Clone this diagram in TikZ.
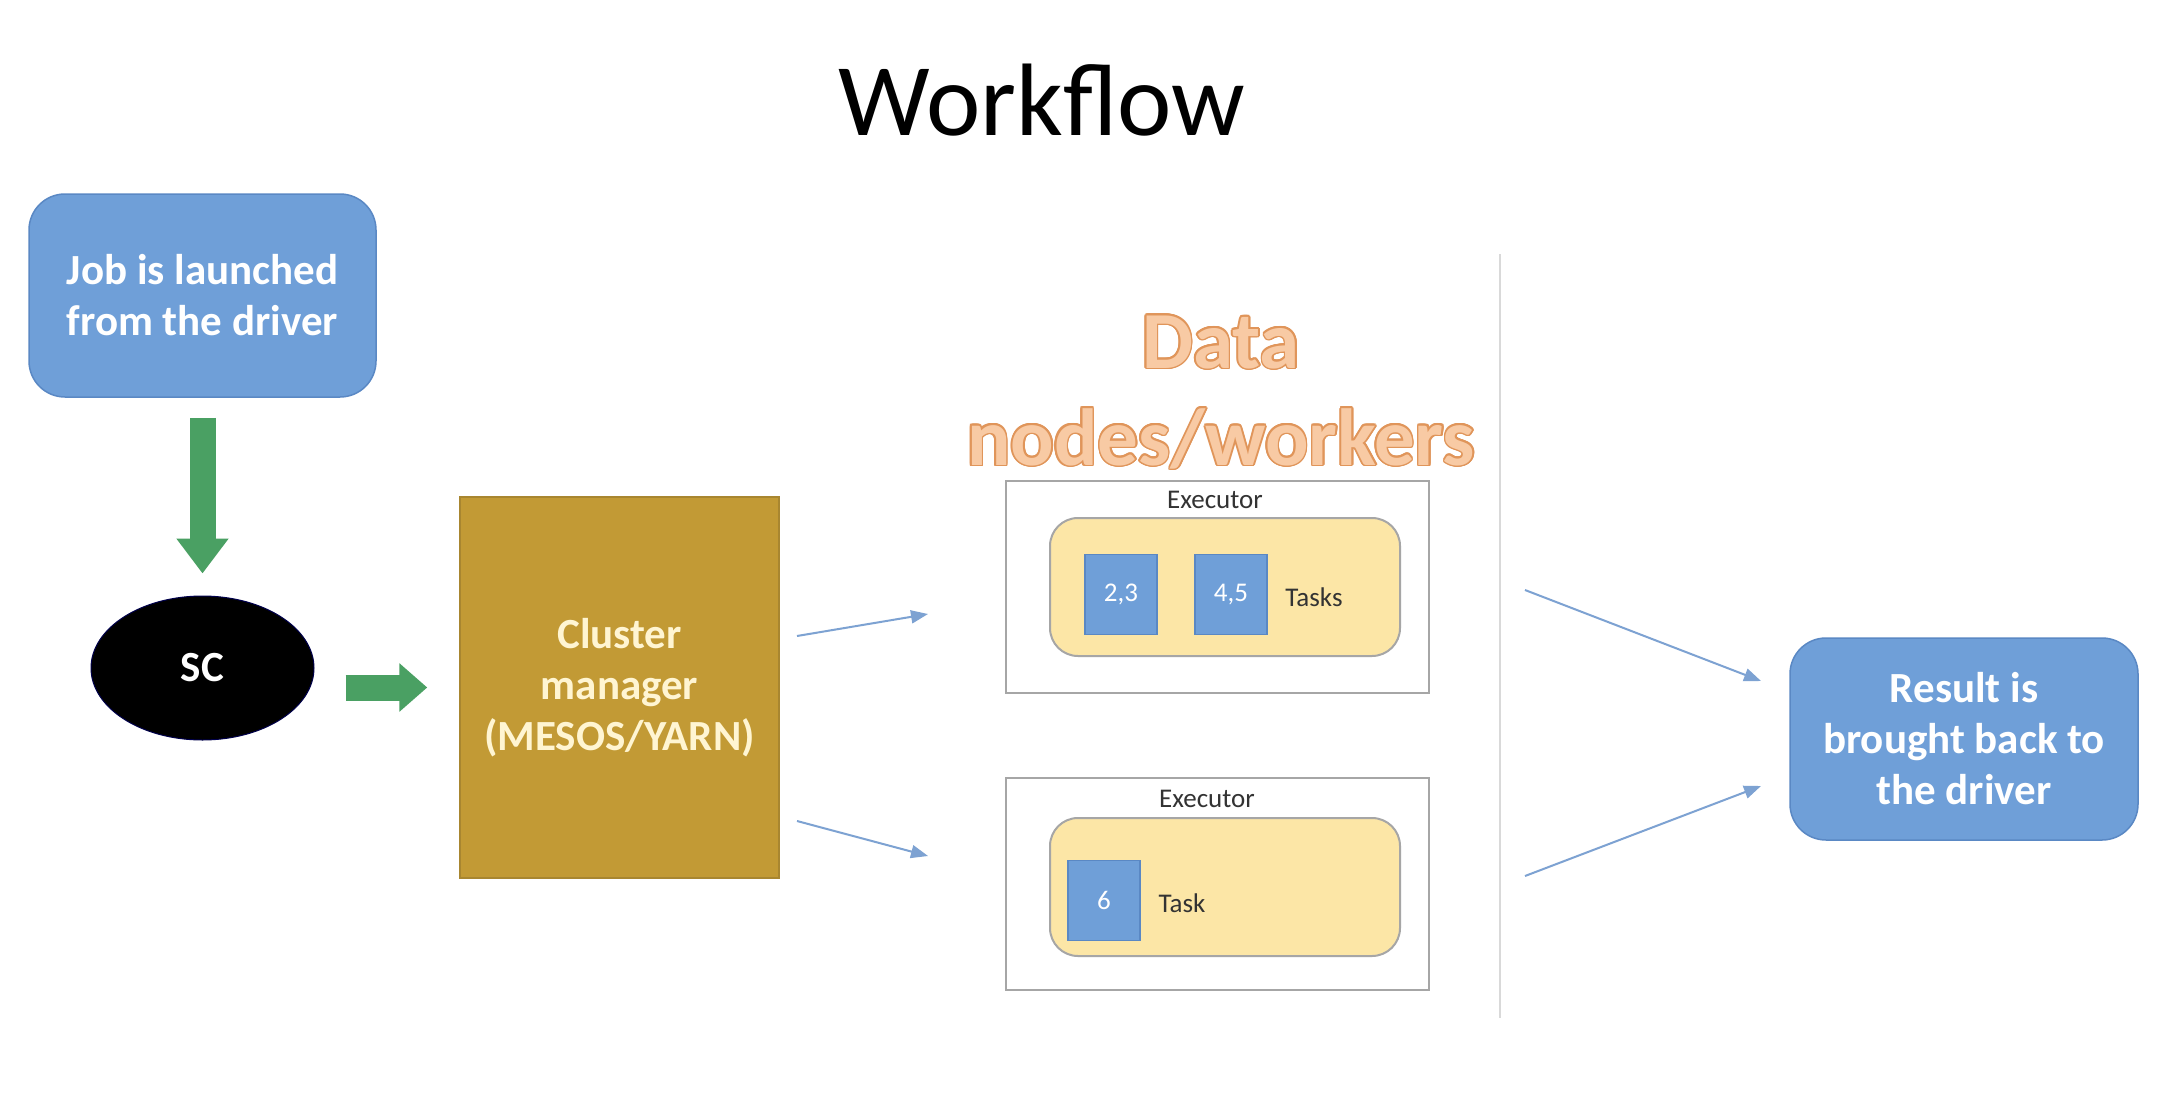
\documentclass[tikz,border=0pt]{standalone}
\usepackage{fontspec}
\setmainfont{Carlito}
\usepackage{contour}
\contourlength{1.6pt}
\usetikzlibrary{arrows.meta,shapes.geometric}
\definecolor{boxblue}{HTML}{6F9FD8}
\definecolor{boxblueline}{HTML}{5A88C4}
\definecolor{garrow}{HTML}{4AA063}
\definecolor{gold}{HTML}{C29A35}
\definecolor{goldline}{HTML}{A88630}
\definecolor{cmtext}{HTML}{FFF5D2}
\definecolor{yel}{HTML}{FCE6A6}
\definecolor{grayline}{HTML}{A6A6A6}
\definecolor{thinblue}{HTML}{7DA2D2}
\definecolor{datafill}{HTML}{F8CAA4}
\definecolor{dataline}{HTML}{E0955A}
\definecolor{sepline}{HTML}{D9D9D9}
\tikzset{
  bluebox/.style={draw=boxblueline, line width=1.5pt, fill=boxblue, rounded corners=36pt,
    minimum width=347pt, minimum height=203pt, text=white, align=center,
    font=\bfseries\fontsize{43}{51}\selectfont},
  greenarrow/.style={draw=garrow, line width=26pt},
  thinarrow/.style={draw=thinblue, line width=2pt, -{Triangle[length=17pt,width=13pt]}},
  execbox/.style={draw=grayline, line width=2pt, minimum width=423pt, minimum height=212pt},
  yelbox/.style={draw=grayline, line width=2pt, fill=yel, rounded corners=28pt,
    minimum width=350pt, minimum height=138pt},
  tasksq/.style={draw=boxblueline, line width=1.5pt, fill=boxblue, minimum width=72pt,
    minimum height=80pt, text=white, font=\fontsize{27}{32}\selectfont},
  smalllabel/.style={text=black!80, font=\fontsize{27}{32}\selectfont},
}
\begin{document}
\begin{tikzpicture}[x=1pt,y=-1pt]
\useasboundingbox (0,0) rectangle (2178,1092);
\fill[white] (0,0) rectangle (2178,1092);

% title
\node[font=\fontsize{103}{120}\selectfont, text=black] (title) at (1042,100) {Workflow};

% left column
\node[bluebox] (job) at (202.5,295.5) {Job is launched\\from the driver};
\node[ellipse, fill=black, draw=black!70!blue, line width=1pt, minimum width=223pt, minimum height=144pt,
  text=white, font=\bfseries\fontsize{43}{51}\selectfont] (sc) at (202.5,668) {SC};
\draw[greenarrow, shorten <=20pt, shorten >=22pt, -{Triangle[length=35pt,width=50pt]}] (job) -- (sc);

% cluster manager
\node[draw=goldline, line width=1.5pt, fill=gold, minimum width=319pt, minimum height=381pt,
  text=cmtext, align=center, font=\bfseries\fontsize{43}{51}\selectfont] (cm) at (619.5,687.5)
  {Cluster\\manager\\(MESOS/YARN)};
\draw[greenarrow, shorten <=31pt, shorten >=32pt, -{Triangle[length=28pt,width=47pt]}] (sc.east |- cm.west) -- (cm.west);

% separator
\coordinate (sepTop) at (1500,254);
\coordinate (sepBot) at (1500,1018);
\draw[sepline, line width=2pt] (sepTop) -- (sepBot);

% executors
\node[execbox] (ex1) at (1217.5,587) {};
\node[smalllabel] (ex1l) at (1215,500) {Executor};
\node[yelbox] (y1) at (1225,587) {};
\node[tasksq] (t23) at (1121,594.5) {2,3};
\node[tasksq] (t45) at (1231,594.5) {4,5};
\node[smalllabel] (tasks) at (1314,597) {Tasks};

\node[execbox] (ex2) at (1217.5,884) {};
\node[smalllabel] (ex2l) at (1207,799) {Executor};
\node[yelbox] (y2) at (1225,887) {};
\node[tasksq] (t6) at (1104,900.5) {6};
\node[smalllabel] (task) at (1182,903) {Task};

% data nodes title
\node[align=center, text=datafill, font=\bfseries\fontsize{81}{97}\selectfont] (data) at (1221,393)
  {\contour{dataline}{Data}\\\contour{dataline}{nodes/workers}};

% result
\node[bluebox, minimum width=348pt, minimum height=202pt] (res) at (1964,739) {Result is\\brought back to\\the driver};

% thin arrows
\coordinate (a1s) at (797,636); \coordinate (a1e) at (928,614);
\coordinate (a2s) at (797,821); \coordinate (a2e) at (928,856);
\coordinate (b1s) at (1525,590); \coordinate (b1e) at (1761,681);
\coordinate (b2s) at (1525,876); \coordinate (b2e) at (1761,786);
\draw[thinarrow] (a1s) -- (a1e);
\draw[thinarrow] (a2s) -- (a2e);
\draw[thinarrow] (b1s) -- (b1e);
\draw[thinarrow] (b2s) -- (b2e);
\end{tikzpicture}
\end{document}
